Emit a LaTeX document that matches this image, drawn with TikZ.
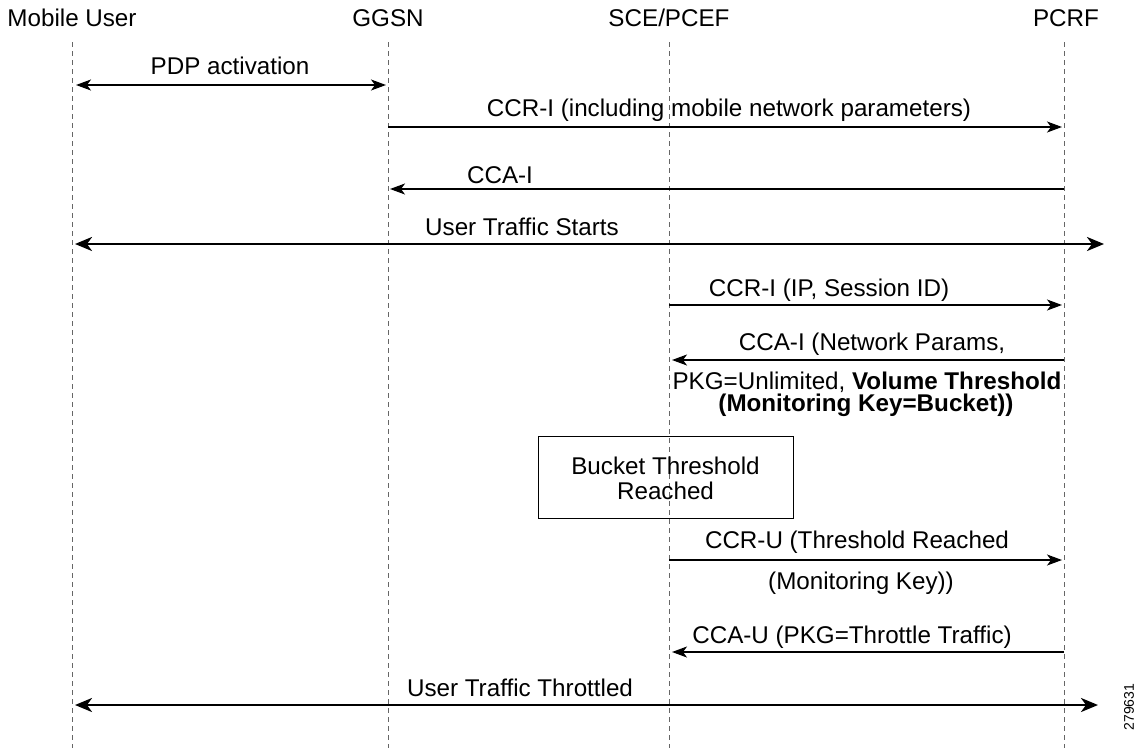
\documentclass[tikz,border=0pt]{standalone}
\usepackage{fontspec}
\setmainfont{Liberation Sans}
\usetikzlibrary{arrows.meta}
\begin{document}
\begin{tikzpicture}[x=1pt,y=-1pt,
  every node/.style={inner sep=0pt,font=\fontsize{24.2}{28}\selectfont},
  lifeline/.style={draw=black!60,line width=1pt,dash pattern=on 5pt off 4pt},
  msg/.style={line width=1.3pt,-{Stealth[length=15pt,width=11pt,inset=4pt]}},
  msgboth/.style={line width=1.3pt,{Stealth[length=15pt,width=11pt,inset=4pt]}-{Stealth[length=15pt,width=11pt,inset=4pt]}},
  thick msg/.style={line width=2.6pt,{Stealth[length=17pt,width=14pt,inset=5pt]}-{Stealth[length=17pt,width=14pt,inset=5pt]}},
  lbl/.style={anchor=center},
  notebox/.style={draw=black,line width=1pt,minimum width=255pt,minimum height=82pt,align=center}]
\useasboundingbox (0,0) rectangle (1142,750);
% titles
\node[lbl] (tmu) at (72,18) {Mobile User};
\node[lbl] (tgg) at (388,18) {GGSN};
\node[lbl] (tsce) at (669,18) {SCE/PCEF};
\node[lbl] (tpc) at (1066,18) {PCRF};
% lifeline ends
\coordinate (mu) at (72,42);  \coordinate (mub) at (72,748);
\coordinate (gg) at (388,42); \coordinate (ggb) at (388,748);
\coordinate (sce) at (669,42); \coordinate (sceb) at (669,748);
\coordinate (pc) at (1064,42); \coordinate (pcb) at (1064,748);
\draw[lifeline] (mu) -- (mub);
\draw[lifeline] (gg) -- (ggb);
\draw[lifeline] (sce) -- (sceb);
\draw[lifeline] (pc) -- (pcb);
% rows
\coordinate (r1) at (0,85);
\coordinate (r2) at (0,127);
\coordinate (r3) at (0,189);
\coordinate (r4) at (0,244);
\coordinate (r5) at (0,305);
\coordinate (r6) at (0,360);
\coordinate (r7) at (0,560);
\coordinate (r8) at (0,652);
\coordinate (r9) at (0,705);
\coordinate (e4) at (1104,244);
\coordinate (e9) at (1098,705);
% messages
\draw[msgboth,shorten <=4pt,shorten >=2pt] (mu|-r1) -- (gg|-r1);
\node[lbl] (l1) at (230,66) {PDP activation};
\draw[msg,shorten >=2pt] (gg|-r2) -- (pc|-r2);
\node[lbl] (l2) at (729,110) {CCR-I (including mobile network parameters)};
\draw[msg,shorten >=2pt] (pc|-r3) -- (gg|-r3);
\node[lbl] (l3) at (500,175) {CCA-I};
\draw[thick msg,shorten <=3pt] (mu|-r4) -- (e4);
\node[lbl] (l4) at (522,227) {User Traffic Starts};
\draw[msg,shorten >=2pt] (sce|-r5) -- (pc|-r5);
\node[lbl] (l5) at (829,290) {CCR-I (IP, Session ID)};
\draw[msg,shorten >=3pt] (pc|-r6) -- (sce|-r6);
\node[lbl] (l6) at (872,344) {CCA-I (Network Params,};
\node[lbl] (l6b) at (867,382) {PKG=Unlimited, \textbf{Volume Threshold}};
\node[lbl] (l6c) at (866,405) {\textbf{(Monitoring Key=Bucket))}};
\node[notebox] (box) at (665.5,477) {\rule{0pt}{20pt}Bucket Threshold\\[-3pt]Reached};
\draw[msg,shorten >=2pt] (sce|-r7) -- (pc|-r7);
\node[lbl] (l7) at (857,542) {CCR-U (Threshold Reached};
\node[lbl] (l7b) at (861,583) {(Monitoring Key))};
\draw[msg,shorten >=3pt] (pc|-r8) -- (sce|-r8);
\node[lbl] (l8) at (852,637) {CCA-U (PKG=Throttle Traffic)};
\draw[thick msg,shorten <=3pt] (mu|-r9) -- (e9);
\node[lbl] (l9) at (520,688) {User Traffic Throttled};
\node[rotate=90,font=\fontsize{14}{16}\selectfont] (fig) at (1129,707) {279631};
\end{tikzpicture}
\end{document}
